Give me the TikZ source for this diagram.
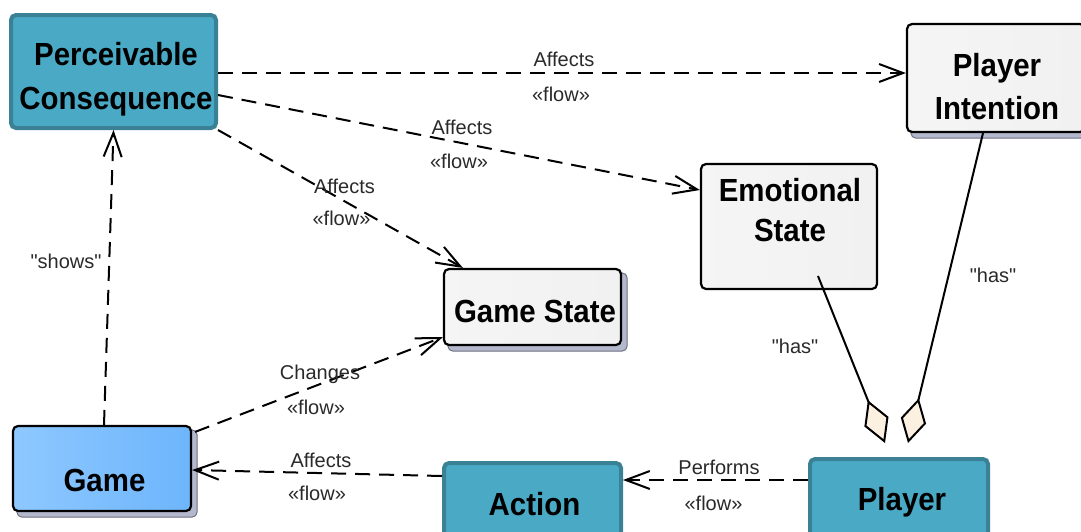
\documentclass[tikz,border=0pt]{standalone}
\usepackage{fontspec}
\setmainfont{Liberation Sans}[Ligatures=TeXOff]
\newfontfamily\classfont{Liberation Sans}[FakeStretch=0.92]
\usetikzlibrary{arrows.meta,backgrounds}

\definecolor{tealfill}{HTML}{4AAAC6}
\definecolor{tealedge}{HTML}{3B8195}
\definecolor{cream}{HTML}{FCF1E1}
\definecolor{shadowfill}{HTML}{B4B8CC}
\definecolor{shadowedge}{HTML}{6E7080}
\definecolor{blueleft}{HTML}{8EC8FF}
\definecolor{bluemid}{HTML}{A5D5FF}
\definecolor{blueright}{HTML}{6DB5FC}
\definecolor{labeltext}{HTML}{2A2A2A}

\begin{document}
\begin{tikzpicture}[x=1pt,y=-1pt,
  box/.style={rectangle, rounded corners=5pt, inner sep=0pt},
  tealbox/.style={box, fill=tealfill, draw=tealedge, line width=4pt},
  whitebox/.style={box, draw=black, line width=2.2pt,
    left color=gray!8, middle color=white, right color=gray!11},
  bluebox/.style={box, draw=black, line width=2.2pt,
    left color=blueleft, middle color=bluemid, right color=blueright},
  boxshadow/.style={fill=shadowfill, draw=shadowedge, line width=1pt, rounded corners=5pt},
  title/.style={font=\classfont\fontsize{32}{38}\selectfont\bfseries, align=center, inner sep=0pt},
  lbl/.style={font=\fontsize{20}{24}\selectfont, text=labeltext, inner sep=0pt, anchor=base},
  flowline/.style={line width=2pt, dash pattern=on 15pt off 9pt,
    -{Straight Barb[length=24pt,width=18pt,line width=2pt]}},
  hasline/.style={line width=2pt,
    -{Diamond[length=46pt,width=26pt,fill=cream,line width=2pt]}}
]
\clip (0,0) rectangle (1081,531);

% classes
\node[tealbox, minimum width=205pt, minimum height=113pt] (pc) at (113.5,71.5) {};
\node[whitebox, minimum width=178pt, minimum height=108pt] (pi) at (996,78) {};
\node[whitebox, minimum width=176pt, minimum height=125pt] (es) at (789,226.5) {};
\node[whitebox, minimum width=177pt, minimum height=76pt] (gs) at (532.5,307) {};
\node[bluebox, minimum width=178pt, minimum height=85pt] (game) at (102,468.5) {};
\node[tealbox, minimum width=177pt, minimum height=87pt] (action) at (532.5,506.5) {};
\node[tealbox, minimum width=178pt, minimum height=91pt] (player) at (899,504.5) {};

% white page and drop shadows behind the shadowed classes
\begin{scope}[on background layer]
  \fill[white] (0,0) rectangle (1081,531);
  \draw[boxshadow] ([shift={(5,5)}]pi.north west) rectangle ([shift={(5,5)}]pi.south east);
  \draw[boxshadow] ([shift={(5,5)}]gs.north west) rectangle ([shift={(5,5)}]gs.south east);
  \draw[boxshadow] ([shift={(5,5)}]game.north west) rectangle ([shift={(5,5)}]game.south east);
\end{scope}

% class names
\node[title, font=\classfont\fontsize{32}{44}\selectfont\bfseries] (pc-t) at (116,79.6) {Perceivable\\Consequence};
\node[title, font=\classfont\fontsize{32}{43}\selectfont\bfseries] (pi-t) at (997,86.8) {Player\\Intention};
\node[title, font=\classfont\fontsize{32}{40}\selectfont\bfseries] (es-t) at (790,210.3) {Emotional\\State};
\node[title, anchor=base] (gs-t) at (535,322) {Game State};
\node[title, anchor=base] (game-t) at (104.5,491) {Game};
\node[title, anchor=base] (action-t) at (534.5,515) {Action};
\node[title, anchor=base] (player-t) at (902,510) {Player};

% flow dependencies
\draw[flowline] ([shift={(0,1.5)}]pc.east) -- ([shift={(0,-5)}]pi.west);
\draw[flowline] ([shift={(0,23.5)}]pc.east) -- ([shift={(0,-36.5)}]es.west);
\draw[flowline] (pc.south east) -- ([shift={(20,0)}]gs.north west);
\draw[flowline] ([shift={(2,0)}]game.north) -- (pc.south);
\draw[flowline] ([shift={(3,7)}]game.north east) -- ([shift={(0,-9)}]gs.south west);
\draw[flowline] ([shift={(0,15)}]action.north west) -- ([shift={(0,1.5)}]game.east);
\draw[flowline] ([shift={(0,23)}]player.north west) -- ([shift={(0,19)}]action.north east);

% aggregations
\coordinate (agg-es) at (885,443);
\coordinate (agg-pi) at (908,443);
\draw[hasline] ([shift={(29,49.5)}]es.center) -- (agg-es);
\draw[hasline] ([shift={(-13,0)}]pi.south) -- (agg-pi);

% connector labels
\node[lbl] (l1a) at (564,66) {Affects};
\node[lbl] (l1b) at (561,101) {«flow»};
\node[lbl] (l2a) at (462,134) {Affects};
\node[lbl] (l2b) at (459,168) {«flow»};
\node[lbl] (l3a) at (344.5,193) {Affects};
\node[lbl] (l3b) at (341.5,225) {«flow»};
\node[lbl] (l4) at (66,268) {"shows"};
\node[lbl] (l5a) at (320,379) {Changes};
\node[lbl] (l5b) at (316,414) {«flow»};
\node[lbl] (l6a) at (321,467) {Affects};
\node[lbl] (l6b) at (317,500) {«flow»};
\node[lbl] (l7a) at (719,474) {Performs};
\node[lbl] (l7b) at (713.5,510) {«flow»};
\node[lbl] (l8) at (795,353) {"has"};
\node[lbl] (l9) at (993,282) {"has"};
\end{tikzpicture}
\end{document}
